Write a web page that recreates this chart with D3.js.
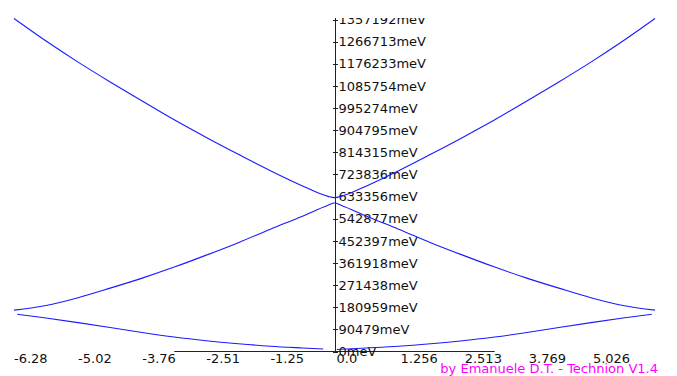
<!DOCTYPE html>
<html>
<head>
<meta charset="utf-8">
<script src="https://cdn.jsdelivr.net/npm/d3@7"></script>
<style>
  body { margin: 0; background: #fff; }
  svg { display: block; }
  .axis-label { font-family: "DejaVu Sans", sans-serif; font-size: 13px; fill: #111; }
  .credit { font-family: "DejaVu Sans", sans-serif; font-size: 13px; fill: #ff00ff; }
</style>
</head>
<body>
<div id="chart"></div>
<script>
const width = 677;
const height = 376;
const TWO_PI = 2 * Math.PI;

// Wave number samples (rad), left zone edge to right zone edge
const kFull = [-6.283, -5.655, -5.027, -4.398, -3.770, -3.142, -2.513, -1.885, -1.257, -0.628, -0.126,
  0, 0.126, 0.628, 1.257, 1.885, 2.513, 3.142, 3.770, 4.398, 5.027, 5.655, 6.283];

// Second band (meV)
const band2 = [169000, 188000, 220000, 259000, 300000, 345000, 394000, 445000, 500000, 553000, 598000,
  607000, 598000, 553000, 500000, 445000, 394000, 345000, 300000, 259000, 220000, 188000, 169000];

// Third band (meV)
const band3 = [1361000, 1269000, 1183000, 1102000, 1024000, 947000, 875000, 806000, 739000, 677000, 634000,
  629000, 634000, 677000, 739000, 806000, 875000, 947000, 1024000, 1102000, 1183000, 1269000, 1361000];

// First band, drawn in two pieces (gap near k = 0)
const kLow1 = [-6.220, -5.655, -5.027, -4.398, -3.770, -3.142, -2.513, -1.885, -1.257, -0.628, -0.220];
const band1Left = [152000, 137000, 118000, 98000, 77500, 59000, 44000, 31800, 21600, 14300, 10000];
const kLow2 = [0.044, 0.628, 1.257, 1.885, 2.513, 3.142, 3.770, 4.398, 5.027, 5.655, 6.220];
const band1Right = [8000, 14300, 21600, 31800, 44000, 59000, 77500, 98000, 118000, 137000, 152000];

// Energy ticks (meV)
const yTicks = [0, 90479, 180959, 271438, 361918, 452397, 542877, 633356, 723836, 814315,
  904795, 995274, 1085754, 1176233, 1266713, 1357192];

// k ticks and their printed labels
const xTickValues = [-5, -4, -3, -2, -1, 0, 1, 2, 3, 4].map(i => i * TWO_PI / 5);
const xTickLabels = ['-6.28', '-5.02', '-3.76', '-2.51', '-1.25', '0.0', '1.256', '2.513', '3.769', '5.026'];

// Scales
const x = d3.scaleLinear().domain([-TWO_PI, TWO_PI]).range([14, 655]);
const y = d3.scaleLinear().domain([0, 1357192]).range([351.5, 19.5]);
const x0 = Math.round(x(0)) + 0.5;

const svg = d3.select('#chart')
  .append('svg')
  .attr('width', width)
  .attr('height', height);

svg.append('defs').append('clipPath')
  .attr('id', 'plot-clip')
  .append('rect')
  .attr('x', 0).attr('y', 18)
  .attr('width', width).attr('height', height - 18);

// X axis line (only spans -pi..pi)
svg.append('line')
  .attr('x1', x(-Math.PI)).attr('x2', x(Math.PI))
  .attr('y1', 351.5).attr('y2', 351.5)
  .attr('stroke', '#222');

// X tick labels
svg.selectAll('.x-label')
  .data(xTickValues)
  .enter()
  .append('text')
  .attr('class', 'axis-label')
  .attr('x', (d, i) => x(d) + (i >= 5 ? 2 : 0))
  .attr('y', 363)
  .text((d, i) => xTickLabels[i]);

// Y axis line
svg.append('line')
  .attr('x1', x0).attr('x2', x0)
  .attr('y1', 18).attr('y2', 352)
  .attr('stroke', '#222');

const yAxis = svg.append('g').attr('clip-path', 'url(#plot-clip)');

yAxis.selectAll('.y-tick')
  .data(yTicks)
  .enter()
  .append('line')
  .attr('x1', x0 - 2.5).attr('x2', x0 + 2.5)
  .attr('y1', d => Math.round(y(d)) + 0.5)
  .attr('y2', d => Math.round(y(d)) + 0.5)
  .attr('stroke', '#222');

yAxis.selectAll('.y-label')
  .data(yTicks)
  .enter()
  .append('text')
  .attr('class', 'axis-label')
  .attr('x', x0 + 3)
  .attr('y', d => y(d))
  .attr('dy', '0.36em')
  .text(d => d + 'meV');

// Bands
const line = d3.line()
  .x(d => x(d[0]))
  .y(d => y(d[1]))
  .curve(d3.curveMonotoneX);

const curves = [
  d3.zip(kFull, band2),
  d3.zip(kFull, band3),
  d3.zip(kLow1, band1Left),
  d3.zip(kLow2, band1Right)
];

svg.selectAll('.band')
  .data(curves)
  .enter()
  .append('path')
  .attr('class', 'band')
  .attr('d', line)
  .attr('fill', 'none')
  .attr('stroke', '#1a1aff')
  .attr('stroke-width', 1.1);

// Credit line
svg.append('text')
  .attr('class', 'credit')
  .attr('x', 658)
  .attr('y', 373)
  .style('text-anchor', 'end')
  .text('by Emanuele D.T. - Technion V1.4');
</script>
</body>
</html>
